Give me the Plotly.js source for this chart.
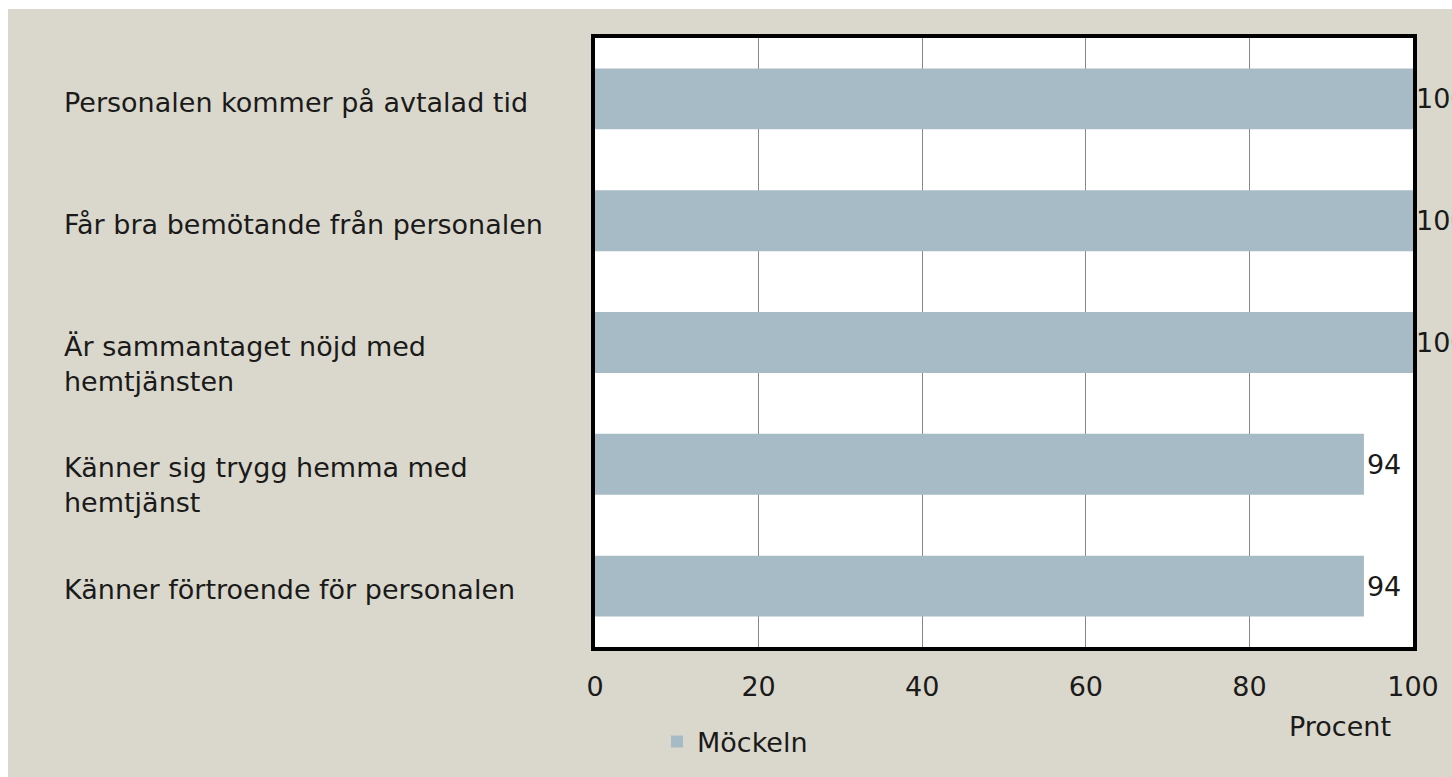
<!DOCTYPE html>
<html><head><meta charset="utf-8">
<script src="https://cdn.plot.ly/plotly-3.0.1.min.js"></script>
<style>
html,body{margin:0;padding:0;background:#fff;overflow:hidden;width:1452px;height:777px;}
#chart{position:absolute;left:8px;top:9px;width:1500px;height:768px;}
</style></head>
<body><div id="chart"></div>
<script>
const categories = [
  "Personalen kommer på avtalad tid",
  "Får bra bemötande från personalen",
  "Är sammantaget nöjd med<br>hemtjänsten",
  "Känner sig trygg hemma med<br>hemtjänst",
  "Känner förtroende för personalen"
];
const values = [100, 100, 100, 94, 94];
const seriesName = "Möckeln";
const tickVals = [0, 20, 40, 60, 80, 100];
const axisTitle = "Procent";

const FONT = "'DejaVu Sans', sans-serif";
const FS = 27;
const TXT = "#1a1a1a";

const trace = {
  type: "bar", orientation: "h",
  x: values, y: categories, name: seriesName,
  marker: {color: "#a7bbc6"},
  text: values.map(String), textposition: "outside", cliponaxis: false,
  textfont: {family: FONT, size: FS, color: TXT},
  hoverinfo: "skip"
};

const annotations = categories.map(c => ({
  xref: "paper", yref: "y", x: -0.6516, y: c, text: c,
  xanchor: "left", yanchor: "top", align: "left", yshift: 14,
  showarrow: false, font: {family: FONT, size: FS, color: TXT}
}));
annotations.push({
  xref: "paper", yref: "paper", x: 0.9108, y: -0.131, text: axisTitle,
  xanchor: "center", yanchor: "middle", showarrow: false,
  font: {family: FONT, size: FS, color: TXT}
});

const layout = {
  width: 1500, height: 768,
  margin: {l: 587, r: 95, t: 29, b: 129, pad: 0},
  paper_bgcolor: "#dad8cc", plot_bgcolor: "#ffffff",
  font: {family: FONT, size: FS, color: TXT},
  bargap: 0.5,
  showlegend: true,
  legend: {orientation: "h", x: 0.0758, y: -0.154, xanchor: "left", yanchor: "middle",
           bgcolor: "rgba(0,0,0,0)", font: {family: FONT, size: FS, color: TXT}},
  xaxis: {range: [0, 100], tickvals: tickVals, ticktext: tickVals.map(String),
          showgrid: true, gridcolor: "#888888", gridwidth: 1, zeroline: false,
          showline: true, linecolor: "#000", linewidth: 4, mirror: true,
          ticks: "", ticklabelstandoff: 13, fixedrange: true,
          tickfont: {family: FONT, size: FS, color: TXT}},
  yaxis: {autorange: "reversed", showticklabels: false, ticks: "", showgrid: false,
          zeroline: false, showline: true, linecolor: "#000", linewidth: 4, mirror: true,
          fixedrange: true},
  annotations: annotations
};

Plotly.newPlot("chart", [trace], layout, {displayModeBar: false, staticPlot: true});
</script></body></html>
